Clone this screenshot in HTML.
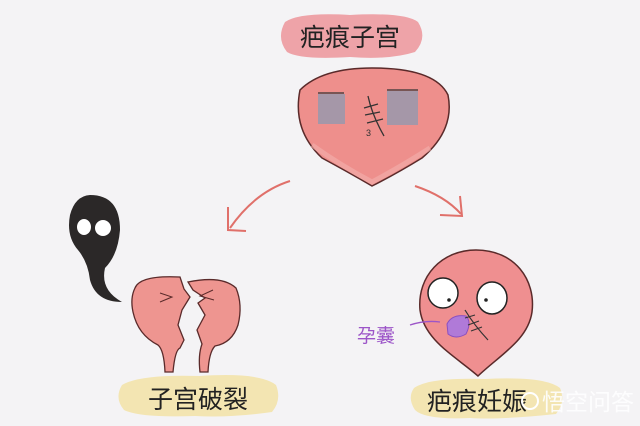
<!DOCTYPE html>
<html><head><meta charset="utf-8"><style>
html,body{margin:0;padding:0;background:#f4f3f5;}
svg{display:block}
text{font-family:"Liberation Sans","Noto Sans CJK SC",sans-serif;}
</style></head><body>
<svg width="640" height="426" viewBox="0 0 640 426" xmlns="http://www.w3.org/2000/svg">
<rect width="640" height="426" fill="#f4f3f5"/>
<!-- top label -->
<path d="M285 22 Q300 12 350 15 Q405 12 418 22 Q428 38 415 52 Q390 60 350 57 Q300 60 287 52 Q276 38 285 22Z" fill="#eea3a8"/>
<text x="350" y="46" font-size="25" text-anchor="middle" fill="#222">疤痕子宫</text>
<!-- top uterus -->
<path d="M300 90 Q322 68 372 68 Q435 68 448 95 Q455 130 422 158 Q396 174 372 186 Q348 172 322 158 Q292 130 300 90Z" fill="#ee8f8c" stroke="#5a2a2a" stroke-width="1.5"/>
<path d="M312 145 Q340 165 372 182 Q402 166 430 148" fill="none" stroke="#f4b0ad" stroke-width="5" opacity=".6"/>
<rect x="318" y="94" width="27" height="30" fill="#a597a8"/>
<line x1="318" y1="93" x2="344" y2="93" stroke="#333" stroke-width="1.2"/>
<rect x="387" y="91" width="31" height="34" fill="#a597a8"/>
<line x1="387" y1="90" x2="418" y2="90" stroke="#333" stroke-width="1.2"/>
<path d="M368 96 Q372 115 384 136" fill="none" stroke="#333" stroke-width="1.3"/>
<path d="M364 108 L378 104 M365 115 L380 112 M367 123 L383 119" stroke="#333" stroke-width="1.3"/>
<text x="366" y="136" font-size="9" fill="#333">3</text>
<!-- arrows -->
<path d="M290 181 Q255 192 230 228" fill="none" stroke="#e0706a" stroke-width="2"/>
<path d="M228 207 L228 230 L246 231" fill="none" stroke="#e0706a" stroke-width="2"/>
<path d="M415 186 Q445 196 461 214" fill="none" stroke="#e0706a" stroke-width="2"/>
<path d="M440 215 L462 216 L460 196" fill="none" stroke="#e0706a" stroke-width="2"/>
<!-- ghost -->
<path d="M90 195 Q120 195 120 230 Q118 255 105 268 Q100 290 122 302 Q96 302 90 280 Q88 262 78 250 Q66 236 70 215 Q75 196 90 195Z" fill="#2b2828"/>
<ellipse cx="84" cy="227" rx="7" ry="8" fill="#fff"/>
<ellipse cx="103" cy="228" rx="8" ry="8" fill="#fff"/>
<!-- broken uterus -->
<path d="M135 288 Q140 275 180 277 L184 289 L190 297 L182 310 L178 325 L184 340 L180 348 Q175 350 173 372 L165 372 Q164 350 158 345 Q138 335 133 312 Q130 298 135 288Z" fill="#ee9590" stroke="#5a2a2a" stroke-width="1.3"/>
<path d="M188 282 Q222 275 236 288 Q243 305 238 325 Q232 343 215 346 Q209 352 208 372 L200 372 Q198 355 202 344 L197 330 L205 315 L198 303 L205 298 L193 290Z" fill="#ee9590" stroke="#5a2a2a" stroke-width="1.3"/>
<path d="M160 293 L172 297 L160 302 M213 290 L200 296 L214 300" fill="none" stroke="#5a2a2a" stroke-width="1"/>
<!-- left label -->
<path d="M122 385 Q140 374 200 376 Q260 372 276 385 Q282 400 272 412 Q230 418 195 416 Q140 418 124 410 Q114 398 122 385Z" fill="#f3e5b2"/>
<text x="198" y="408" font-size="25" text-anchor="middle" fill="#222">子宫破裂</text>
<!-- right uterus -->
<path d="M476 250 C515 250 536 280 532 312 C528 340 500 355 478 376 C455 356 424 340 420 310 C417 276 442 250 476 250Z" fill="#ef8f90" stroke="#5a2a2a" stroke-width="1.5"/>
<ellipse cx="443" cy="293" rx="15" ry="15" fill="#fff" stroke="#222" stroke-width="1.5"/>
<circle cx="449" cy="300" r="1.8" fill="#222"/>
<ellipse cx="492" cy="298" rx="15" ry="16" fill="#fff" stroke="#222" stroke-width="1.5"/>
<circle cx="486" cy="300" r="1.8" fill="#222"/>
<path d="M447 324 Q452 314 466 316 Q472 322 466 334 Q456 340 448 334Z" fill="#b07ad8" stroke="#8a4fc0" stroke-width="1"/>
<path d="M465 310 Q474 325 488 340" fill="none" stroke="#333" stroke-width="1.2"/>
<path d="M465 318 L475 315 M468 325 L479 321 M471 331 L482 327" stroke="#333" stroke-width="1.1"/>
<path d="M410 325 Q425 320 440 322" fill="none" stroke="#9c55c8" stroke-width="1.3"/>
<text x="357" y="342" font-size="19" fill="#9c55c8">孕囊</text>
<!-- right label -->
<path d="M414 388 Q430 377 485 379 Q545 376 560 388 Q566 402 556 414 Q500 420 470 418 Q425 420 415 410 Q407 398 414 388Z" fill="#f3e5b2"/>
<text x="477" y="410" font-size="25" text-anchor="middle" fill="#222">疤痕妊娠</text>
<!-- watermark -->
<circle cx="530" cy="401" r="8" fill="none" stroke="#fff" stroke-width="2"/>
<text x="542" y="410" font-size="23" fill="#fff" opacity=".9">悟空问答</text>
</svg>
</body></html>
